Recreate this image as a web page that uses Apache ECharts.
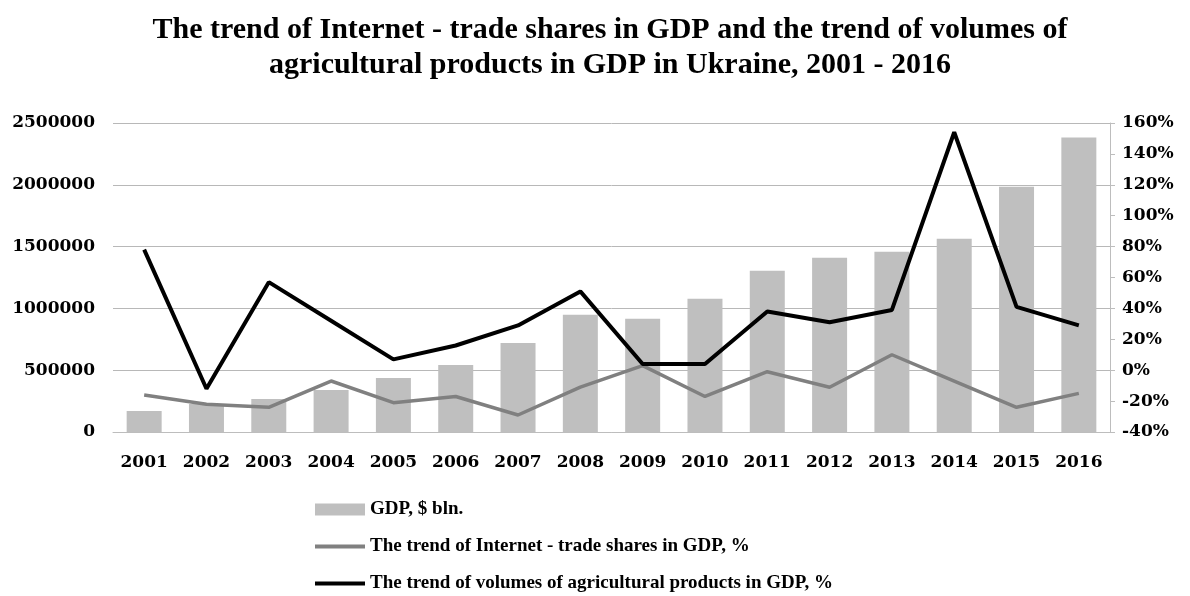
<!DOCTYPE html>
<html>
<head>
<meta charset="utf-8">
<script src="https://cdn.jsdelivr.net/npm/echarts@6/dist/echarts.min.js"></script>
<style>
  html, body { margin: 0; padding: 0; background: #fff; }
  #chart { width: 1190px; height: 596px; }
</style>
</head>
<body>
<div id="chart"></div>
<script>
var years = ['2001', '2002', '2003', '2004', '2005', '2006', '2007', '2008',
             '2009', '2010', '2011', '2012', '2013', '2014', '2015', '2016'];
var gdp = [170000, 227000, 267000, 340000, 437000, 543000, 721000, 948000,
           916000, 1078000, 1305000, 1410000, 1459000, 1564000, 1985000, 2382000];
var internetTrend = [-16, -22, -24, -7, -21, -17, -29, -11,
                     3, -17, -1, -11, 10, -7, -24, -15];
var agriTrend = [78, -12, 57, 32, 7, 16, 29, 51,
                 4, 4, 38, 31, 39, 154, 41, 29];

var serif = '"Liberation Serif", "DejaVu Serif", serif';
var wideSerif = '"DejaVu Serif", "Liberation Serif", serif';

var chart = echarts.init(document.getElementById('chart'));

// thin bar shaped icon so the line entries look like strokes, not dots
var lineIcon = 'path://M0,0 L50,0 L50,4 L0,4 Z';

var option = {
    animation: false,
    textStyle: { fontFamily: serif },
    title: {
        text: 'The trend of Internet - trade shares in GDP and the trend of volumes of\nagricultural products in GDP in Ukraine, 2001 - 2016',
        left: 610,
        textAlign: 'center',
        top: 13,
        padding: 0,
        textStyle: {
            fontFamily: serif,
            fontWeight: 'bold',
            fontSize: 30,
            lineHeight: 35,
            color: '#000'
        }
    },
    legend: {
        orient: 'vertical',
        left: 315,
        top: 500,
        height: 120,
        padding: 0,
        itemWidth: 50,
        itemHeight: 12,
        itemGap: 18,
        textStyle: { fontFamily: serif, fontWeight: 'bold', fontSize: 19, color: '#000' },
        data: [
            { name: 'GDP, $ bln.', icon: 'rect' },
            { name: 'The trend of Internet - trade shares in GDP, %', icon: lineIcon },
            { name: 'The trend of volumes of agricultural products in GDP, %', icon: lineIcon }
        ]
    },
    grid: { left: 113, right: 80, top: 123, bottom: 164 },
    xAxis: {
        type: 'category',
        data: years,
        axisLine: { lineStyle: { color: '#bdbdbd', width: 1 } },
        axisTick: { show: false },
        axisLabel: { fontFamily: wideSerif, fontWeight: 'bold', fontSize: 17, color: '#000', margin: 22 }
    },
    yAxis: [
        {
            type: 'value',
            min: 0,
            max: 2500000,
            interval: 500000,
            axisLine: { show: false },
            axisTick: { show: false },
            splitLine: { lineStyle: { color: '#b8b8b8', width: 1 } },
            axisLabel: {
                formatter: function (v) { return String(v); },
                fontFamily: wideSerif, fontWeight: 'bold', fontSize: 17, color: '#000', margin: 18
            }
        },
        {
            type: 'value',
            min: -40,
            max: 160,
            interval: 20,
            position: 'right',
            axisLine: { show: true, lineStyle: { color: '#bdbdbd' } },
            axisTick: { show: true, length: 5, lineStyle: { color: '#bdbdbd' } },
            splitLine: { show: false },
            axisLabel: { formatter: '{value}%', fontFamily: wideSerif, fontWeight: 'bold', fontSize: 17, color: '#000', margin: 12 }
        }
    ],
    series: [
        {
            name: 'GDP, $ bln.',
            type: 'bar',
            data: gdp,
            barWidth: 35,
            itemStyle: { color: '#bfbfbf' }
        },
        {
            name: 'The trend of Internet - trade shares in GDP, %',
            type: 'line',
            yAxisIndex: 1,
            data: internetTrend,
            symbol: 'none',
            lineStyle: { color: '#808080', width: 3.5 },
            itemStyle: { color: '#808080' }
        },
        {
            name: 'The trend of volumes of agricultural products in GDP, %',
            type: 'line',
            yAxisIndex: 1,
            data: agriTrend,
            symbol: 'none',
            lineStyle: { color: '#000', width: 4 },
            itemStyle: { color: '#000' }
        }
    ]
};

chart.setOption(option);
</script>
</body>
</html>
